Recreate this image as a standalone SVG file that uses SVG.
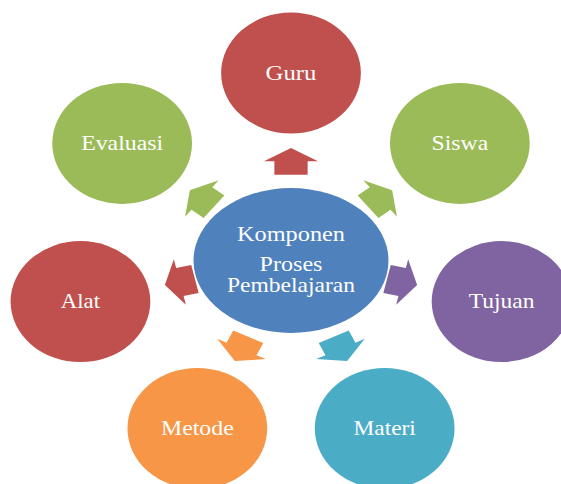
<svg xmlns="http://www.w3.org/2000/svg" xmlns:xlink="http://www.w3.org/1999/xlink" width="561" height="484" viewBox="0 0 561 484">
  <style>
    .lbl { font-family: "Liberation Serif", "Times New Roman", serif; font-size: 20px; fill: #ffffff; text-anchor: middle; }
    .red { fill: #C0504D; }
    .green { fill: #9BBB59; }
    .purple { fill: #8064A2; }
    .aqua { fill: #4BACC6; }
    .orange { fill: #F79646; }
    .blue { fill: #4F81BD; }
  </style>
  <defs>
    <path id="arw" d="M85.3,-14.4 H98.7 V-23.4 L112,0 L98.7,23.4 V14.4 H85.3 Z"/>
  </defs>
  <rect width="561" height="484" fill="#ffffff"/>
  <g transform="translate(291,260) scale(1.155,1)">
    <g id="connectors">
      <use xlink:href="#arw" href="#arw" class="red" transform="rotate(-90)"/>
      <use xlink:href="#arw" href="#arw" class="green" transform="rotate(-38.57)"/>
      <use xlink:href="#arw" href="#arw" class="purple" transform="rotate(12.86)"/>
      <use xlink:href="#arw" href="#arw" class="aqua" transform="rotate(64.29)"/>
      <use xlink:href="#arw" href="#arw" class="orange" transform="rotate(115.71)"/>
      <use xlink:href="#arw" href="#arw" class="red" transform="rotate(167.14)"/>
      <use xlink:href="#arw" href="#arw" class="green" transform="rotate(218.57)"/>
    </g>
    <g id="center">
      <ellipse cx="0" cy="0.5" rx="84.4" ry="72.5" class="blue"/>
      <text class="lbl" x="0" y="-19.5" textLength="93.5" lengthAdjust="spacingAndGlyphs">Komponen</text>
      <text class="lbl" x="0" y="10.7" textLength="54.5" lengthAdjust="spacingAndGlyphs">Proses</text>
      <text class="lbl" x="0" y="32" textLength="111" lengthAdjust="spacingAndGlyphs">Pembelajaran</text>
    </g>
    <g id="guru">
      <circle cx="0" cy="-187" r="60.5" class="red"/>
      <text class="lbl" x="0" y="-180.5" textLength="44" lengthAdjust="spacingAndGlyphs">Guru</text>
    </g>
    <g id="siswa">
      <circle cx="146.2" cy="-116.6" r="60.5" class="green"/>
      <text class="lbl" x="146.2" y="-110.1" textLength="49" lengthAdjust="spacingAndGlyphs">Siswa</text>
    </g>
    <g id="tujuan">
      <circle cx="182.3" cy="41.6" r="60.5" class="purple"/>
      <text class="lbl" x="182.3" y="48.1" textLength="57" lengthAdjust="spacingAndGlyphs">Tujuan</text>
    </g>
    <g id="materi">
      <circle cx="81.1" cy="168.5" r="60.5" class="aqua"/>
      <text class="lbl" x="81.1" y="175" textLength="54" lengthAdjust="spacingAndGlyphs">Materi</text>
    </g>
    <g id="metode">
      <circle cx="-81.1" cy="168.5" r="60.5" class="orange"/>
      <text class="lbl" x="-81.1" y="175" textLength="63" lengthAdjust="spacingAndGlyphs">Metode</text>
    </g>
    <g id="alat">
      <circle cx="-182.3" cy="41.6" r="60.5" class="red"/>
      <text class="lbl" x="-182.3" y="48.1" textLength="34" lengthAdjust="spacingAndGlyphs">Alat</text>
    </g>
    <g id="evaluasi">
      <circle cx="-146.2" cy="-116.6" r="60.5" class="green"/>
      <text class="lbl" x="-146.2" y="-110.1" textLength="71" lengthAdjust="spacingAndGlyphs">Evaluasi</text>
    </g>
  </g>
</svg>
